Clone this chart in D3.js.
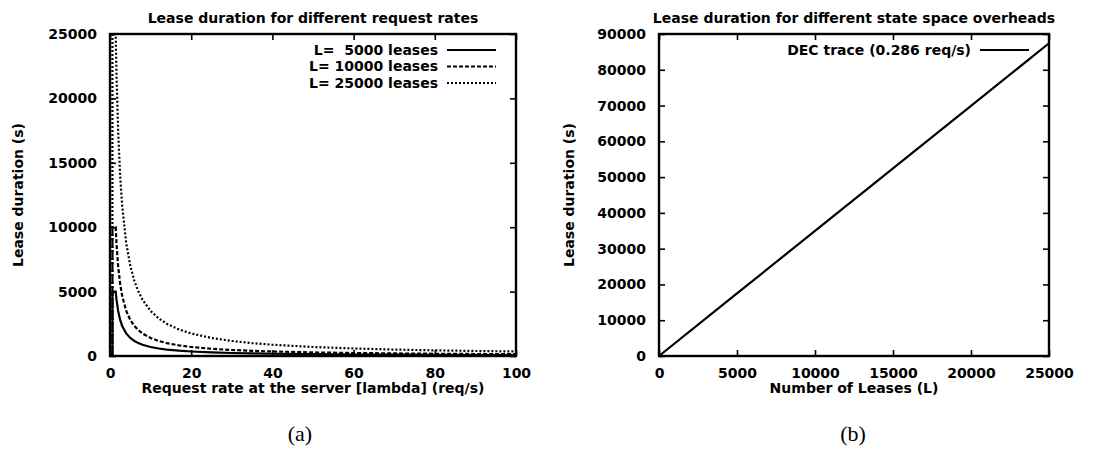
<!DOCTYPE html>
<html>
<head>
<meta charset="utf-8">
<script src="https://cdn.jsdelivr.net/npm/d3@7"></script>
<style>
  body { margin: 0; background: #fff; }
  text { font-family: "DejaVu Sans", sans-serif; font-weight: bold; fill: #000; }
  .cap { font-family: "Liberation Serif", serif; font-weight: normal; font-size: 22px; }
</style>
</head>
<body>
<div id="chart"></div>
<script>
// (a) lease duration vs request rate, one series per lease count
var rates      = [0.6, 0.6, 1.4, 1.6, 2, 2.5, 3, 4, 5, 6, 7, 8, 10, 12, 14, 17, 20, 25, 30, 35, 40, 50, 60, 70, 80, 90, 100];
var lease5000  = [0, 5000, 5000, 4375, 3500, 2800, 2333, 1750, 1400, 1167, 1000, 875, 700, 583, 500, 412, 350, 280, 233, 200, 175, 140, 117, 100, 88, 78, 70];
var lease10000 = [0, 10000, 10000, 8750, 7000, 5600, 4667, 3500, 2800, 2333, 2000, 1750, 1400, 1167, 1000, 824, 700, 560, 467, 400, 350, 280, 233, 200, 175, 156, 140];
var lease25000 = [0, 25000, 25000, 21875, 17500, 14000, 11667, 8750, 7000, 5833, 5000, 4375, 3500, 2917, 2500, 2059, 1750, 1400, 1167, 1000, 875, 700, 583, 500, 438, 389, 350];
var rateTicks  = [0, 20, 40, 60, 80, 100];
var durTicksA  = [0, 5000, 10000, 15000, 20000, 25000];

// (b) lease duration vs number of leases, DEC trace
var leaseCounts = [0, 5000, 10000, 15000, 20000, 25000];
var decDuration = [0, 17480, 34970, 52450, 69930, 87410];
var countTicks  = [0, 5000, 10000, 15000, 20000, 25000];
var durTicksB   = [0, 10000, 20000, 30000, 40000, 50000, 60000, 70000, 80000, 90000];

var svgWidth = 1094;
var svgHeight = 451;
var fontSize = 14;

var svg = d3.select("#chart")
  .append("svg")
  .attr("width", svgWidth)
  .attr("height", svgHeight);

function drawPanel(p) {
  var x = d3.scaleLinear().domain(p.xDomain).range([p.left, p.right]);
  var y = d3.scaleLinear().domain(p.yDomain).range([p.bottom, p.top]);
  var g = svg.append("g");

  // inward ticks on all four sides, gnuplot style
  var bottomAxis = d3.axisBottom(x).tickValues(p.xTicks).tickFormat(d3.format("d"))
    .tickSizeInner(-6).tickSizeOuter(0).tickPadding(12);
  var topAxis = d3.axisTop(x).tickValues(p.xTicks).tickFormat("")
    .tickSizeInner(-6).tickSizeOuter(0);
  var leftAxis = d3.axisLeft(y).tickValues(p.yTicks).tickFormat(d3.format("d"))
    .tickSizeInner(-6).tickSizeOuter(0).tickPadding(13);
  var rightAxis = d3.axisRight(y).tickValues(p.yTicks).tickFormat("")
    .tickSizeInner(-6).tickSizeOuter(0);

  var axes = [
    g.append("g").attr("transform", `translate(0, ${p.bottom})`).call(bottomAxis),
    g.append("g").attr("transform", `translate(0, ${p.top})`).call(topAxis),
    g.append("g").attr("transform", `translate(${p.left}, 0)`).call(leftAxis),
    g.append("g").attr("transform", `translate(${p.right}, 0)`).call(rightAxis)
  ];
  axes.forEach(function(a) {
    a.select(".domain").remove();
    a.selectAll("line").attr("stroke", "#000").attr("stroke-width", 1.6);
    a.selectAll("text").attr("font-size", fontSize).attr("font-family", null).attr("fill", "#000");
  });

  // series
  p.series.forEach(function(s) {
    var line = d3.line()
      .x(function(d, i) { return x(s.xs[i]); })
      .y(function(d) { return y(d); });
    g.append("path")
      .datum(s.ys)
      .attr("d", line)
      .attr("fill", "none")
      .attr("stroke", "#000")
      .attr("stroke-width", 2.2)
      .attr("stroke-dasharray", s.dash);
  });

  // frame
  g.append("rect")
    .attr("x", p.left).attr("y", p.top)
    .attr("width", p.right - p.left).attr("height", p.bottom - p.top)
    .attr("fill", "none").attr("stroke", "#000").attr("stroke-width", 2.4);

  // legend
  p.series.forEach(function(s, i) {
    var ly = p.top + 16 + i * 16.5;
    g.append("text")
      .attr("x", p.right - 78).attr("y", ly)
      .attr("dy", "0.35em")
      .attr("text-anchor", "end")
      .attr("font-size", fontSize)
      .style("white-space", "pre")
      .text(s.label);
    g.append("line")
      .attr("x1", p.right - 69).attr("x2", p.right - 20)
      .attr("y1", ly).attr("y2", ly)
      .attr("stroke", "#000").attr("stroke-width", 2.2)
      .attr("stroke-dasharray", s.dash);
  });

  var cx = (p.left + p.right) / 2;
  g.append("text")
    .attr("x", cx).attr("y", 18).attr("dy", "0.35em")
    .attr("text-anchor", "middle").attr("font-size", fontSize)
    .text(p.title);
  g.append("text")
    .attr("x", cx).attr("y", 388).attr("dy", "0.35em")
    .attr("text-anchor", "middle").attr("font-size", fontSize)
    .text(p.xLabel);
  g.append("text")
    .attr("transform", `translate(${p.yLabelX}, ${(p.top + p.bottom) / 2}) rotate(-90)`)
    .attr("dy", "0.35em")
    .attr("text-anchor", "middle").attr("font-size", fontSize)
    .text("Lease duration (s)");
  g.append("text")
    .attr("class", "cap")
    .attr("x", p.capX).attr("y", 433).attr("dy", "0.35em")
    .attr("text-anchor", "middle")
    .text(p.caption);
}

drawPanel({
  left: 110, right: 516, top: 34, bottom: 356,
  xDomain: [0, 100], yDomain: [0, 25000],
  xTicks: rateTicks, yTicks: durTicksA,
  title: "Lease duration for different request rates",
  xLabel: "Request rate at the server [lambda] (req/s)",
  yLabelX: 18, capX: 300, caption: "(a)",
  series: [
    { label: "L=  5000 leases", xs: rates, ys: lease5000, dash: null },
    { label: "L= 10000 leases", xs: rates, ys: lease10000, dash: "4,2" },
    { label: "L= 25000 leases", xs: rates, ys: lease25000, dash: "2,2" }
  ]
});

drawPanel({
  left: 659, right: 1049, top: 34, bottom: 356,
  xDomain: [0, 25000], yDomain: [0, 90000],
  xTicks: countTicks, yTicks: durTicksB,
  title: "Lease duration for different state space overheads",
  xLabel: "Number of Leases (L)",
  yLabelX: 569, capX: 853, caption: "(b)",
  series: [
    { label: "DEC trace (0.286 req/s)", xs: leaseCounts, ys: decDuration, dash: null }
  ]
});
</script>
</body>
</html>
